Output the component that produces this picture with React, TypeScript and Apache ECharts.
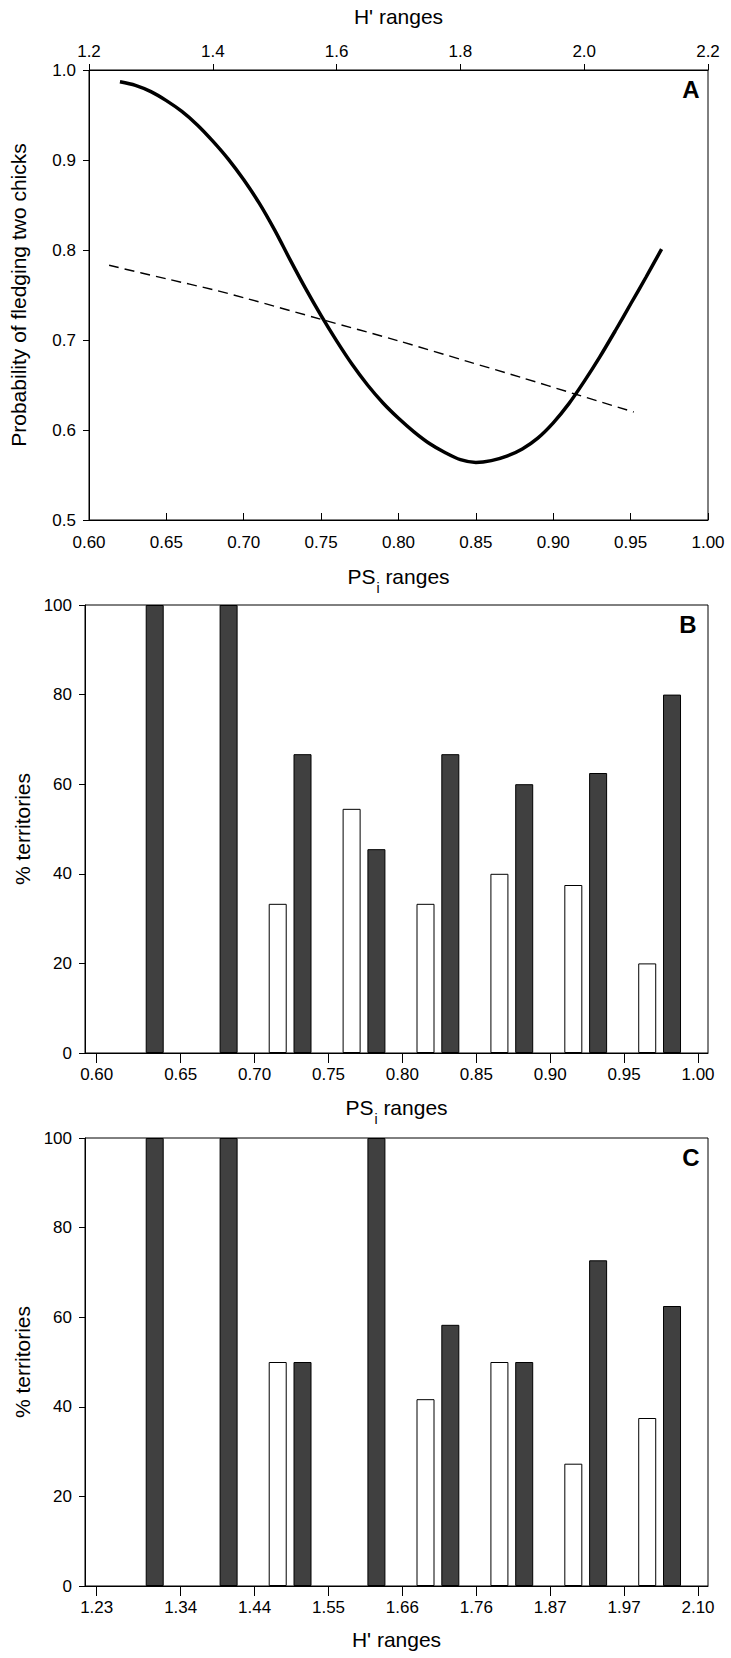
import React, { useEffect, useRef } from "react";
import * as echarts from "echarts";

// Panel A: probability curves
const solidX = [0.62, 0.63, 0.64, 0.65, 0.66, 0.67, 0.68, 0.69, 0.70, 0.71, 0.72, 0.73, 0.74, 0.75, 0.76, 0.77, 0.78, 0.79, 0.80, 0.81, 0.82, 0.83, 0.84, 0.85, 0.86, 0.87, 0.88, 0.89, 0.90, 0.91, 0.92, 0.93, 0.94, 0.95, 0.96, 0.97];
const solidY = [0.987, 0.983, 0.976, 0.966, 0.954, 0.939, 0.921, 0.901, 0.878, 0.852, 0.822, 0.789, 0.757, 0.727, 0.699, 0.673, 0.650, 0.630, 0.613, 0.598, 0.585, 0.575, 0.567, 0.564, 0.566, 0.571, 0.579, 0.591, 0.608, 0.629, 0.654, 0.681, 0.710, 0.740, 0.770, 0.801];
const dashX = [0.613, 0.65, 0.68, 0.70, 0.75, 0.80, 0.845, 0.88, 0.914, 0.952];
const dashY = [0.783, 0.768, 0.756, 0.747, 0.723, 0.699, 0.676, 0.658, 0.640, 0.620];

// Panel B: PSi ranges
const psiTickLabels = ["0.60", "0.65", "0.70", "0.75", "0.80", "0.85", "0.90", "0.95", "1.00"];
const psiWhite = [0, 0, 33.3, 54.5, 33.3, 40, 37.5, 20];
const psiDark = [100, 100, 66.7, 45.5, 66.7, 60, 62.5, 80];

// Panel C: H' ranges
const hTickLabels = ["1.23", "1.34", "1.44", "1.55", "1.66", "1.76", "1.87", "1.97", "2.10"];
const hWhite = [0, 0, 50, 0, 41.7, 50, 27.3, 37.5];
const hDark = [100, 100, 50, 100, 58.3, 50, 72.7, 62.5];

const SANS = "'Liberation Sans', Arial, sans-serif";
const DARK = "#404040";

// tick positions on the bin-index axis (bin boundaries)
const binTicks = [-0.137, 1, 2, 3, 4, 5, 6, 7, 8];
const WHITE_OFF = 0.3126;
const DARK_OFF = 0.6482;

function barData(white: number[], dark: number[]) {
  const out: any[] = [];
  white.forEach((w, i) => {
    if (w > 0) out.push({ value: [i + WHITE_OFF, w], itemStyle: { color: "#ffffff", borderColor: "#000", borderWidth: 1 } });
    out.push({ value: [i + DARK_OFF, dark[i]], itemStyle: { color: DARK, borderColor: "#000", borderWidth: 1 } });
  });
  return out;
}

const labelStyle = { color: "#000", fontFamily: SANS, fontSize: 17 };
const axisLine = { show: true, onZero: false, lineStyle: { color: "#000", width: 1 } };
const titleStyle = { color: "#000", fontFamily: SANS, fontSize: 21 };

const psiName = "{n|PS}{s|i}{n| ranges}";
const psiNameStyle = {
  color: "#000",
  fontFamily: SANS,
  fontSize: 21,
  rich: {
    n: { fontFamily: SANS, fontSize: 21, color: "#000", verticalAlign: "top", lineHeight: 25 },
    s: { fontFamily: SANS, fontSize: 14, color: "#000", verticalAlign: "top", lineHeight: 14, padding: [15, 0, 0, 1] },
  },
};

export default function App() {
  const ref = useRef<HTMLDivElement>(null);
  useEffect(() => {
    if (!ref.current) return;
    const chart = echarts.init(ref.current, undefined, { renderer: "svg" });
    const binAxis = (gridIndex: number, labels: string[], name: string, nameStyle: any, nameGap: number) => ({
      type: "value",
      gridIndex,
      position: "bottom",
      min: -0.295,
      max: 8.135,
      axisLine,
      axisTick: { show: true, inside: false, length: 10, lineStyle: { color: "#000" }, customValues: binTicks },
      axisLabel: {
        ...labelStyle,
        margin: 13,
        customValues: binTicks,
        formatter: (v: number) => labels[Math.max(0, Math.round(v))],
      },
      splitLine: { show: false },
      name,
      nameLocation: "middle",
      nameGap,
      nameTextStyle: nameStyle,
    });
    const pctAxis = (gridIndex: number) => ({
      type: "value",
      gridIndex,
      min: 0,
      max: 100,
      interval: 20,
      axisLine,
      axisTick: { show: true, inside: false, length: 6, lineStyle: { color: "#000" } },
      axisLabel: { ...labelStyle, margin: 13 },
      splitLine: { show: false },
      name: "% territories",
      nameLocation: "middle",
      nameGap: 47,
      nameTextStyle: titleStyle,
    });
    const option: any = {
      animation: false,
      backgroundColor: "#ffffff",
      grid: [
        { left: 85, top: 70, width: 623, height: 450, show: true, borderColor: "#000", borderWidth: 1, backgroundColor: "transparent" },
        { left: 85, top: 605, width: 623, height: 448, show: true, borderColor: "#000", borderWidth: 1, backgroundColor: "transparent" },
        { left: 85, top: 1138, width: 623, height: 448, show: true, borderColor: "#000", borderWidth: 1, backgroundColor: "transparent" },
      ],
      xAxis: [
        {
          type: "value",
          gridIndex: 0,
          position: "bottom",
          min: 0.6,
          max: 1.0,
          interval: 0.05,
          axisLine,
          axisTick: { show: true, inside: true, length: 7, lineStyle: { color: "#000" } },
          axisLabel: { ...labelStyle, margin: 14, formatter: (v: number) => v.toFixed(2) },
          splitLine: { show: false },
          name: psiName,
          nameLocation: "middle",
          nameGap: 46,
          nameTextStyle: psiNameStyle,
        },
        {
          type: "value",
          gridIndex: 0,
          position: "top",
          min: 1.2,
          max: 2.2,
          interval: 0.2,
          axisLine,
          axisTick: { show: true, inside: false, length: 6, lineStyle: { color: "#000" } },
          axisLabel: { ...labelStyle, margin: 10, formatter: (v: number) => v.toFixed(1) },
          splitLine: { show: false },
          name: "H' ranges",
          nameLocation: "middle",
          nameGap: 43,
          nameTextStyle: titleStyle,
        },
        binAxis(1, psiTickLabels, psiName, psiNameStyle, 44),
        binAxis(2, hTickLabels, "H' ranges", titleStyle, 43),
      ],
      yAxis: [
        {
          type: "value",
          gridIndex: 0,
          min: 0.5,
          max: 1.0,
          interval: 0.1,
          axisLine,
          axisTick: { show: true, inside: false, length: 6, lineStyle: { color: "#000" } },
          axisLabel: { ...labelStyle, margin: 13, formatter: (v: number) => v.toFixed(1) },
          splitLine: { show: false },
          name: "Probability of fledging two chicks",
          nameLocation: "middle",
          nameGap: 60,
          nameTextStyle: titleStyle,
        },
        pctAxis(1),
        pctAxis(2),
      ],
      series: [
        {
          type: "line",
          xAxisIndex: 0,
          yAxisIndex: 0,
          data: solidX.map((x, i) => [x, solidY[i]]),
          smooth: 0.3,
          symbol: "none",
          lineStyle: { color: "#000", width: 3.5 },
        },
        {
          type: "line",
          xAxisIndex: 0,
          yAxisIndex: 0,
          data: dashX.map((x, i) => [x, dashY[i]]),
          smooth: 0.3,
          symbol: "none",
          lineStyle: { color: "#000", width: 1.4, type: [10, 6] },
        },
        {
          type: "bar",
          xAxisIndex: 2,
          yAxisIndex: 1,
          barWidth: 18,
          data: barData(psiWhite, psiDark),
        },
        {
          type: "bar",
          xAxisIndex: 3,
          yAxisIndex: 2,
          barWidth: 18,
          data: barData(hWhite, hDark),
        },
      ],
      graphic: [
        { type: "text", x: 691, y: 89, style: { text: "A", font: `bold 24px ${SANS}`, fill: "#000", textAlign: "center", textVerticalAlign: "middle", align: "center", verticalAlign: "middle" } },
        { type: "text", x: 688, y: 624, style: { text: "B", font: `bold 24px ${SANS}`, fill: "#000", textAlign: "center", textVerticalAlign: "middle", align: "center", verticalAlign: "middle" } },
        { type: "text", x: 691, y: 1157, style: { text: "C", font: `bold 24px ${SANS}`, fill: "#000", textAlign: "center", textVerticalAlign: "middle", align: "center", verticalAlign: "middle" } },
      ],
    };
    chart.setOption(option);
    return () => chart.dispose();
  }, []);
  return <div ref={ref} style={{ position: "absolute", left: 0, top: 0, width: 731, height: 1658, background: "#fff" }} />;
}
